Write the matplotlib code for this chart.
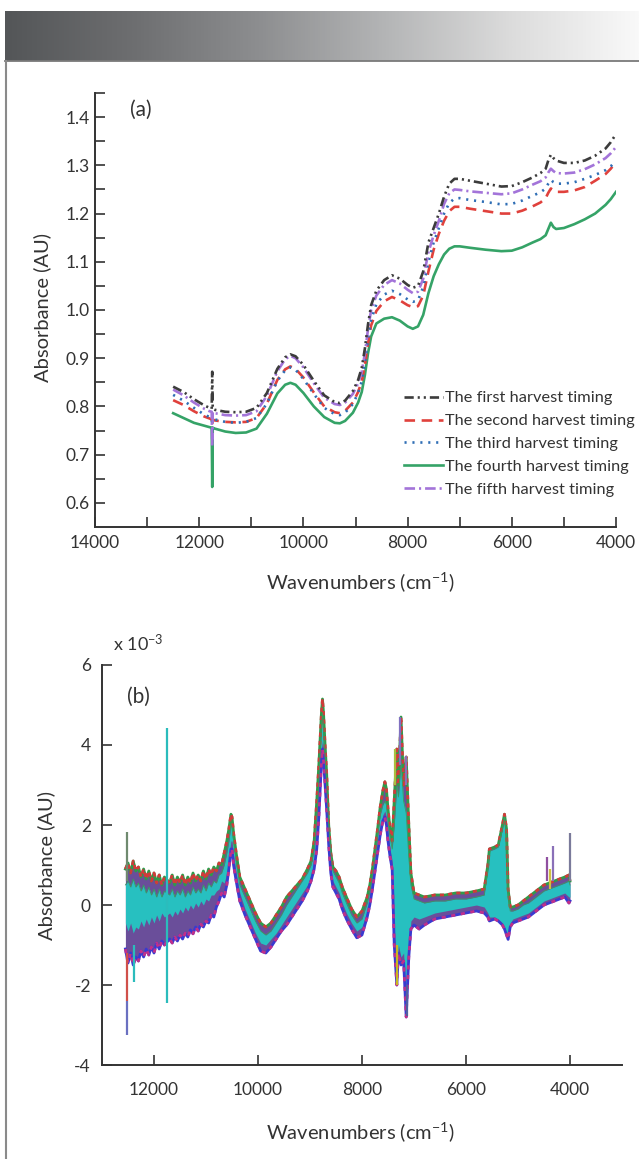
import numpy as np
import matplotlib
matplotlib.use('Agg')
import matplotlib.pyplot as plt
from matplotlib.lines import Line2D
from matplotlib.colors import LinearSegmentedColormap
from matplotlib.ticker import FixedLocator, FormatStrFormatter

plt.rcParams['font.family'] = ['Lato', 'DejaVu Sans']
plt.rcParams['mathtext.fontset'] = 'custom'
plt.rcParams['mathtext.rm'] = 'Lato'
plt.rcParams['mathtext.it'] = 'Lato:italic'
plt.rcParams['axes.unicode_minus'] = False

# ---------------- data: panel (a) ----------------
wn_a = [12500, 12300, 12100, 11900, 11800, 11760, 11750, 11740, 11700, 11500,
        11300, 11100, 10900, 10700, 10500, 10350, 10250, 10150, 10000, 9800,
        9600, 9400, 9300, 9200, 9050, 8950, 8880, 8820, 8760, 8700,
        8600, 8450, 8300, 8150, 8000, 7900, 7800, 7700, 7600, 7500,
        7400, 7300, 7200, 7100, 7000, 6800, 6500, 6200, 6000, 5800,
        5600, 5450, 5350, 5300, 5250, 5200, 5150, 5000, 4800, 4600,
        4400, 4200, 4100, 4000]

first_harvest = [0.841, 0.830, 0.815, 0.802, 0.797, 0.795, 0.872, 0.795, 0.793, 0.789,
                 0.788, 0.789, 0.797, 0.828, 0.878, 0.902, 0.908, 0.904, 0.886, 0.853,
                 0.823, 0.809, 0.807, 0.812, 0.832, 0.855, 0.880, 0.920, 0.970, 1.010,
                 1.040, 1.062, 1.072, 1.065, 1.052, 1.046, 1.050, 1.080, 1.140, 1.170,
                 1.200, 1.235, 1.262, 1.272, 1.272, 1.268, 1.262, 1.256, 1.257, 1.265,
                 1.275, 1.284, 1.293, 1.310, 1.322, 1.315, 1.310, 1.305, 1.305, 1.310,
                 1.320, 1.335, 1.348, 1.365]

second_harvest = [0.813, 0.803, 0.790, 0.779, 0.775, 0.773, 0.760, 0.773, 0.771, 0.768,
                  0.767, 0.768, 0.776, 0.806, 0.855, 0.877, 0.883, 0.878, 0.860, 0.829,
                  0.800, 0.788, 0.786, 0.791, 0.808, 0.830, 0.852, 0.885, 0.930, 0.968,
                  0.998, 1.018, 1.027, 1.020, 1.010, 1.006, 1.008, 1.030, 1.080, 1.125,
                  1.158, 1.185, 1.205, 1.214, 1.214, 1.210, 1.205, 1.200, 1.200, 1.206,
                  1.215, 1.223, 1.232, 1.243, 1.252, 1.248, 1.245, 1.245, 1.248, 1.255,
                  1.268, 1.282, 1.293, 1.307]

third_harvest = [0.824, 0.812, 0.797, 0.783, 0.778, 0.776, 0.752, 0.776, 0.773, 0.768,
                 0.766, 0.768, 0.776, 0.806, 0.853, 0.875, 0.881, 0.876, 0.857, 0.826,
                 0.797, 0.784, 0.782, 0.787, 0.805, 0.828, 0.852, 0.890, 0.940, 0.980,
                 1.012, 1.032, 1.040, 1.033, 1.022, 1.017, 1.020, 1.048, 1.100, 1.140,
                 1.170, 1.200, 1.222, 1.231, 1.232, 1.228, 1.224, 1.219, 1.220, 1.227,
                 1.237, 1.244, 1.252, 1.262, 1.270, 1.265, 1.262, 1.262, 1.265, 1.272,
                 1.280, 1.290, 1.298, 1.310]

fourth_harvest = [0.786, 0.776, 0.766, 0.760, 0.757, 0.756, 0.633, 0.756, 0.754, 0.748,
                  0.745, 0.746, 0.754, 0.785, 0.827, 0.845, 0.849, 0.845, 0.828, 0.800,
                  0.778, 0.766, 0.765, 0.770, 0.787, 0.808, 0.830, 0.865, 0.910, 0.945,
                  0.972, 0.982, 0.985, 0.978, 0.966, 0.961, 0.966, 0.990, 1.035, 1.070,
                  1.095, 1.115, 1.127, 1.132, 1.132, 1.129, 1.125, 1.122, 1.123, 1.130,
                  1.140, 1.147, 1.155, 1.168, 1.181, 1.172, 1.168, 1.170, 1.178, 1.188,
                  1.200, 1.218, 1.230, 1.245]

fifth_harvest = [0.835, 0.823, 0.808, 0.795, 0.790, 0.789, 0.717, 0.789, 0.786, 0.782,
                 0.781, 0.782, 0.790, 0.822, 0.873, 0.898, 0.905, 0.900, 0.881, 0.848,
                 0.818, 0.805, 0.803, 0.808, 0.826, 0.848, 0.872, 0.910, 0.960, 1.000,
                 1.030, 1.052, 1.062, 1.055, 1.042, 1.035, 1.038, 1.065, 1.120, 1.155,
                 1.185, 1.220, 1.242, 1.250, 1.249, 1.246, 1.243, 1.240, 1.242, 1.250,
                 1.260, 1.267, 1.275, 1.285, 1.293, 1.288, 1.284, 1.283, 1.285, 1.292,
                 1.302, 1.315, 1.325, 1.338]

labels_a = ['The first harvest timing', 'The second harvest timing',
            'The third harvest timing', 'The fourth harvest timing',
            'The fifth harvest timing']

# ---------------- data: panel (b)  (x 10^-3) ----------------
wn_b = [12550, 12500, 12450, 12400, 12350, 12300, 12250, 12200, 12150, 12100,
        12050, 12000, 11950, 11900, 11850, 11800, 11700, 11650, 11600, 11550,
        11500, 11450, 11400, 11350, 11300, 11250, 11200, 11150, 11100, 11050,
        11000, 10950, 10900, 10850, 10800, 10750, 10700,
        10650, 10600, 10560, 10520, 10500, 10470, 10420, 10350, 10250, 10150,
        10050, 9950, 9850, 9750, 9650, 9550, 9450, 9350, 9250, 9150,
        9050, 8980, 8920, 8870, 8830, 8800, 8780, 8760, 8740, 8710,
        8680, 8640, 8600, 8560, 8500, 8440, 8380, 8300, 8200, 8100,
        8000, 7900, 7850, 7800, 7750, 7700, 7650, 7600, 7560, 7530,
        7500, 7460, 7420,
        7380, 7330, 7300, 7250, 7200, 7150, 7100, 7060, 7000,
        6900, 6800, 6600, 6400, 6200, 6000, 5800, 5650, 5580, 5550,
        5450, 5380, 5300, 5260, 5220, 5190, 5150, 5100, 5000, 4900,
        4800, 4700, 4600, 4500, 4400, 4300, 4200, 4100, 4020, 4000]

upper_b = [0.90, 1.05, 0.80, 1.10, 0.85, 0.95, 0.70, 0.90, 0.65, 0.85,
           0.60, 0.80, 0.55, 0.75, 0.50, 0.70, 0.55, 0.75, 0.50, 0.70,
           0.55, 0.75, 0.50, 0.70, 0.55, 0.80, 0.60, 0.75, 0.60, 0.85,
           0.65, 0.90, 0.75, 0.95, 0.85, 1.05, 1.00,
           1.30, 1.60, 1.90, 2.27, 2.20, 1.80, 1.30, 0.70, 0.40, 0.10,
           -0.20, -0.45, -0.55, -0.45, -0.25, -0.05, 0.20, 0.35, 0.50, 0.65,
           0.90, 1.10, 1.60, 2.60, 3.50, 4.30, 4.80, 5.15, 4.80, 4.00,
           3.30, 2.00, 1.30, 0.95, 0.85, 0.70, 0.45, 0.20, -0.10, -0.30,
           -0.15, 0.20, 0.50, 0.90, 1.40, 1.90, 2.45, 2.85, 3.08, 2.90,
           2.40, 1.90, 1.60,
           2.60, 3.90, 3.00, 4.70, 3.00, 3.70, 2.00, 0.80, 0.30,
           0.25, 0.20, 0.25, 0.25, 0.30, 0.30, 0.35, 0.40, 1.00, 1.40,
           1.45, 1.50, 2.00, 2.27, 1.90, 0.40, -0.05, -0.05, 0.00, 0.10,
           0.20, 0.30, 0.40, 0.50, 0.55, 0.60, 0.65, 0.70, 0.75, 0.60]

lower_b = [-1.10, -1.45, -1.20, -1.50, -1.30, -1.40, -1.15, -1.30, -1.10, -1.25,
           -1.05, -1.20, -0.95, -1.10, -0.90, -1.00, -0.85, -0.95, -0.80, -0.90,
           -0.75, -0.85, -0.70, -0.80, -0.62, -0.72, -0.55, -0.65, -0.48, -0.55,
           -0.40, -0.45, -0.25, -0.30, -0.05, 0.10, 0.30,
           0.20, 0.50, 0.90, 1.40, 1.40, 1.00, 0.60, 0.10, -0.25, -0.55,
           -0.85, -1.15, -1.20, -1.05, -0.85, -0.65, -0.50, -0.30, -0.10, 0.10,
           0.35, 0.60, 0.90, 1.40, 2.20, 3.00, 3.60, 3.90, 3.60, 3.00,
           2.40, 1.50, 0.80, 0.45, 0.30, 0.15, -0.10, -0.35, -0.60, -0.82,
           -0.75, -0.30, 0.00, 0.40, 0.85, 1.30, 1.75, 2.10, 2.20, 2.00,
           1.60, 1.20, 0.90,
           -1.00, -2.00, -1.20, -1.50, -1.40, -2.80, -1.30, -0.60, -0.50,
           -0.60, -0.50, -0.35, -0.30, -0.25, -0.20, -0.15, -0.20, -0.30, -0.40,
           -0.35, -0.40, -0.50, -0.60, -0.75, -0.86, -0.55, -0.45, -0.40, -0.35,
           -0.30, -0.20, -0.10, 0.00, 0.05, 0.10, 0.15, 0.20, 0.05, 0.10]

cyan_hi_b = [0.50, 0.60, 0.45, 0.65, 0.45, 0.55, 0.35, 0.50, 0.30, 0.45,
             0.25, 0.40, 0.20, 0.40, 0.20, 0.35, 0.25, 0.40, 0.20, 0.35,
             0.25, 0.40, 0.20, 0.35, 0.25, 0.45, 0.30, 0.40, 0.30, 0.50,
             0.35, 0.55, 0.45, 0.60, 0.55, 0.75, 0.80,
             1.00, 1.30, 1.60, 2.00, 1.95, 1.60, 1.10, 0.50, 0.20, -0.10,
             -0.40, -0.65, -0.75, -0.65, -0.45, -0.25, 0.00, 0.20, 0.40, 0.60,
             0.80, 1.00, 1.40, 2.20, 3.10, 4.00, 4.50, 4.80, 4.50, 3.80,
             3.00, 2.00, 1.30, 0.85, 0.70, 0.55, 0.30, 0.05, -0.25, -0.45,
             -0.35, 0.05, 0.35, 0.75, 1.25, 1.75, 2.25, 2.50, 2.60, 2.50,
             2.10, 1.70, 1.40,
             2.00, 3.00, 2.70, 3.60, 2.60, 2.30, 1.20, 0.50, 0.15,
             0.10, 0.05, 0.10, 0.10, 0.15, 0.15, 0.20, 0.25, 0.90, 1.35,
             1.40, 1.45, 1.90, 2.20, 1.80, 0.30, -0.15, -0.15, -0.10, 0.00,
             0.05, 0.15, 0.25, 0.35, 0.40, 0.45, 0.50, 0.55, 0.60, 0.50]

cyan_lo_b = [-0.45, -0.65, -0.45, -0.70, -0.55, -0.60, -0.40, -0.55, -0.35, -0.50,
             -0.30, -0.45, -0.25, -0.40, -0.20, -0.30, -0.20, -0.30, -0.15, -0.25,
             -0.10, -0.20, -0.05, -0.15, 0.00, -0.10, 0.05, -0.05, 0.10, 0.00,
             0.15, 0.10, 0.25, 0.25, 0.35, 0.40, 0.60,
             0.55, 0.80, 1.20, 1.60, 1.60, 1.25, 0.80, 0.30, -0.10, -0.40,
             -0.70, -0.95, -1.00, -0.85, -0.70, -0.50, -0.30, -0.10, 0.10, 0.30,
             0.50, 0.75, 1.10, 1.70, 2.50, 3.30, 3.90, 4.10, 3.90, 3.20,
             2.60, 1.60, 0.95, 0.60, 0.45, 0.30, 0.05, -0.20, -0.45, -0.65,
             -0.55, -0.15, 0.15, 0.55, 1.00, 1.45, 1.90, 2.25, 2.35, 2.20,
             1.80, 1.40, 1.10,
             -0.60, -1.50, -1.00, -1.30, -1.20, -2.40, -1.10, -0.40, -0.30,
             -0.35, -0.30, -0.20, -0.15, -0.10, -0.05, 0.00, -0.05, -0.20, -0.30,
             -0.30, -0.35, -0.45, -0.55, -0.70, -0.80, -0.45, -0.35, -0.30, -0.25,
             -0.20, -0.10, 0.00, 0.10, 0.15, 0.20, 0.25, 0.30, 0.20, 0.20]

spike_wn = [12525, 12525, 12525, 12380, 11745, 7368, 7330, 7260, 7152, 7138, 4440, 4380, 4325, 4005]
spike_lo = [0.60, -2.40, -3.25, -1.93, -2.46, 3.00, -2.00, 3.50, 3.00, -2.77, 0.60, 0.40, 0.60, 0.60]
spike_hi = [1.83, -1.20, -2.40, -1.00, 4.43, 3.89, -1.00, 4.71, 3.73, -2.00, 1.20, 0.90, 1.48, 1.81]
spike_colors = ['#6f8a6f', '#d0504a', '#6a70c0', '#2bbcbc', '#2bbcbc', '#a8c040',
                '#c8b820', '#8070c0', '#8a70b8', '#5060a0', '#9050a0', '#d0c040',
                '#8a70b8', '#7a7a9a']

# ---------------- figure ----------------
W, H = 639, 1159
fig = plt.figure(figsize=(W / 100, H / 100), dpi=100)
TXT = '#333333'


def fx(px):
    return px / W


def fy(py):
    return 1 - py / H


# header banner
ban = fig.add_axes([fx(4.5), fy(61), (W - 4.5) / W, 50 / H])
cmap = LinearSegmentedColormap.from_list(
    'hdr', ['#545658', '#6d6e70', '#8d8e90', '#b4b5b6', '#dcdcdc', '#f9f9f9'])
ban.imshow(np.linspace(0, 1, 512)[None, :], aspect='auto', cmap=cmap,
           extent=[0, 1, 0, 1])
ban.axis('off')
fig.add_artist(Line2D([fx(4.5), 1], [fy(61), fy(61)], color='#7a7a7a', lw=1.3,
                      transform=fig.transFigure))
fig.add_artist(Line2D([fx(5.5), fx(5.5)], [fy(61), 0], color='#8a8a8a', lw=1.5,
                      transform=fig.transFigure))


def style_axes(ax, pad_x, pad_y):
    for s in ['top', 'right']:
        ax.spines[s].set_visible(False)
    for s in ['left', 'bottom']:
        ax.spines[s].set_linewidth(1.4)
        ax.spines[s].set_color(TXT)
    ax.tick_params(which='both', direction='in', length=7, width=1.2,
                   colors=TXT, labelsize=12.5)
    ax.tick_params(axis='x', which='both', pad=pad_x)
    ax.tick_params(axis='y', which='both', pad=pad_y)


# ---------------- panel (a) ----------------
ax1 = fig.add_axes([fx(95), fy(527), 521 / W, 434 / H])
series = [first_harvest, second_harvest, third_harvest, fourth_harvest, fifth_harvest]
colors = ['#3c3c3c', '#e0413c', '#2f6eb5', '#35a367', '#a374d9']
styles = [(0, (3.5, 1.5, 0.8, 1.5, 0.8, 1.5)), (0, (4.0, 2.5)), (0, (0.8, 2.2)),
          '-', (0, (4.0, 1.5, 0.8, 1.5))]
order = [3, 1, 2, 4, 0]
lines = {}
for i in order:
    ln, = ax1.plot(wn_a, series[i], color=colors[i], ls=styles[i], lw=1.9,
                   label=labels_a[i])
    lines[i] = ln
ax1.set_xlim(14000, 4000)
ax1.set_ylim(0.55, 1.45)
ax1.xaxis.set_major_locator(FixedLocator([14000, 12000, 10000, 8000, 6000, 4000]))
ax1.xaxis.set_minor_locator(FixedLocator([13000, 11000, 9000, 7000, 5000]))
ax1.yaxis.set_major_locator(FixedLocator([0.6, 0.7, 0.8, 0.9, 1.0, 1.1, 1.2, 1.3, 1.4]))
ax1.yaxis.set_minor_locator(FixedLocator([0.65, 0.75, 0.85, 0.95, 1.05, 1.15, 1.25, 1.35, 1.45]))
ax1.yaxis.set_major_formatter(FormatStrFormatter('%.1f'))
style_axes(ax1, 6, 4)
leg = ax1.legend([lines[i] for i in range(5)], labels_a, loc='upper left',
                 bbox_to_anchor=(fx(404), fy(391)), bbox_transform=fig.transFigure,
                 frameon=False, fontsize=11.8, handlelength=2.4, handletextpad=0.12,
                 labelspacing=0.51, borderpad=0, borderaxespad=0)
for t in leg.get_texts():
    t.set_color(TXT)

fig.text(fx(141), fy(110), '(a)', ha='center', va='center', fontsize=15, color=TXT)
fig.text(fx(42.5), fy(307), 'Absorbance (AU)', rotation=90, ha='center',
         va='center', fontsize=14.5, color=TXT)
fig.text(fx(360), fy(582), 'Wavenumbers (cm$^{-1}$)', ha='center', va='center',
         fontsize=14.5, color=TXT)

# ---------------- panel (b) ----------------
ax2 = fig.add_axes([fx(102), fy(1065), 520 / W, 400 / H])
ax2.fill_between(wn_b, lower_b, upper_b, color='#6a4e9a', lw=0)
ax2.plot(wn_b, upper_b, color='#2f9a4a', lw=2.0)
ax2.plot(wn_b, upper_b, color='#d23a3a', lw=2.0, ls=(0, (1.5, 1.5)))
ax2.plot(wn_b, lower_b, color='#3a3ad0', lw=2.0)
ax2.plot(wn_b, lower_b, color='#c0308a', lw=2.0, ls=(0, (1.5, 2.0)))
ax2.fill_between(wn_b, cyan_lo_b, cyan_hi_b, color='#27c0c0', lw=0)
ax2.plot(wn_b, cyan_hi_b, color='#3a9a60', lw=0.6)
ax2.vlines(spike_wn, spike_lo, spike_hi, colors=spike_colors, lw=1.6)
ax2.set_xlim(13000, 3000)
ax2.set_ylim(-4, 6)
ax2.xaxis.set_major_locator(FixedLocator([12000, 10000, 8000, 6000, 4000]))
ax2.yaxis.set_major_locator(FixedLocator([-4, -2, 0, 2, 4, 6]))
style_axes(ax2, 12, 8)

fig.text(fx(138), fy(697), '(b)', ha='center', va='center', fontsize=15, color=TXT)
fig.text(fx(138), fy(643), 'x 10$^{-3}$', ha='center', va='center', fontsize=13,
         color=TXT)
fig.text(fx(46), fy(866), 'Absorbance (AU)', rotation=90, ha='center',
         va='center', fontsize=14.5, color=TXT)
fig.text(fx(360), fy(1132), 'Wavenumbers (cm$^{-1}$)', ha='center', va='center',
         fontsize=14.5, color=TXT)

fig.savefig('out.png', dpi=100, facecolor='white')
